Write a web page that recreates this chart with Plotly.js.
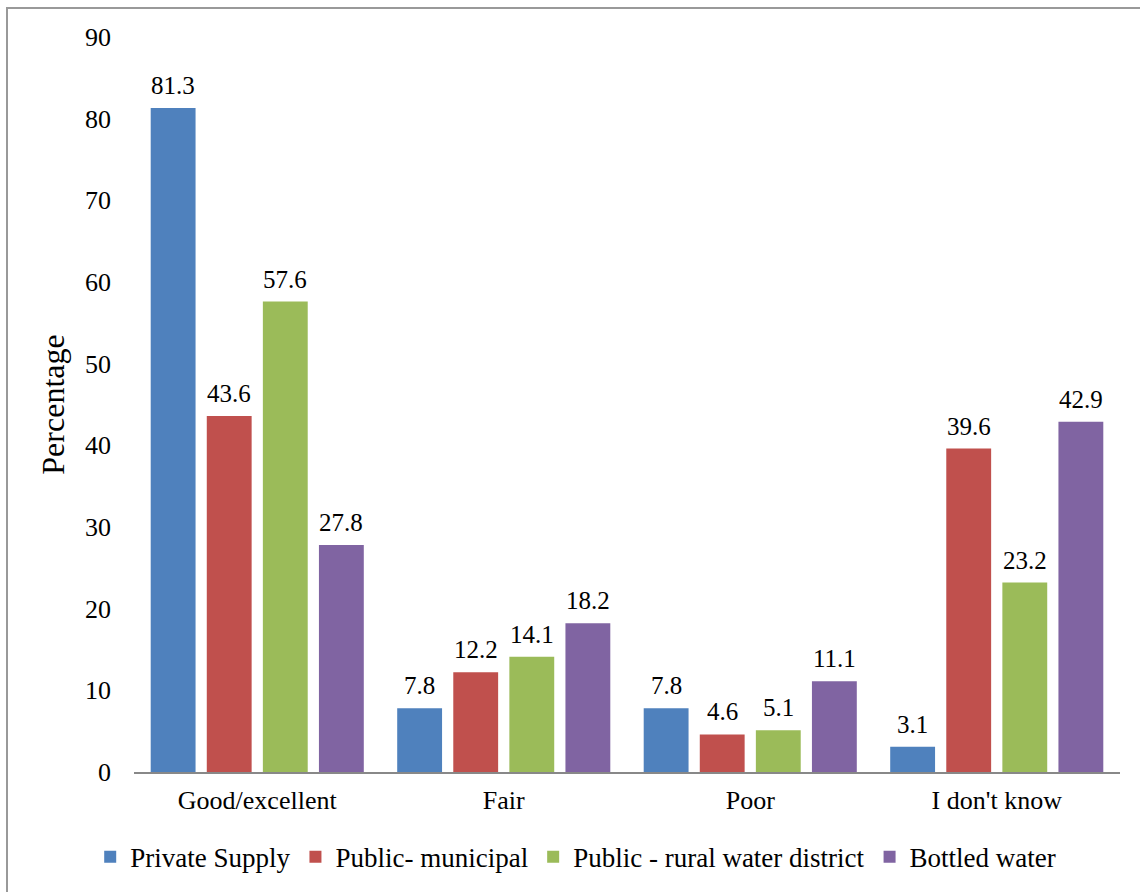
<!DOCTYPE html>
<html>
<head>
<meta charset="utf-8">
<script src="https://cdn.plot.ly/plotly-3.0.1.min.js"></script>
<style>
  html, body { margin: 0; padding: 0; background: #fff; }
  #chart { width: 1140px; height: 892px; }
</style>
</head>
<body>
<div id="chart"></div>
<script>
// Perceived drinking-water quality by water source
const categories = ["Good/excellent", "Fair", "Poor", "I don't know"];
const seriesNames = ["Private Supply", "Public- municipal", "Public - rural water district", "Bottled water"];
const privateSupply = [81.3, 7.8, 7.8, 3.1];
const publicMunicipal = [43.6, 12.2, 4.6, 39.6];
const publicRural = [57.6, 14.1, 5.1, 23.2];
const bottledWater = [27.8, 18.2, 11.1, 42.9];
const colors = ["#4F81BD", "#C0504D", "#9BBB59", "#8064A2"];

const seriesValues = [privateSupply, publicMunicipal, publicRural, bottledWater];
const font = "Liberation Serif, Times New Roman, serif";

// plot area geometry
const W = 1140, H = 892;
const m = { l: 134, r: 20, t: 37, b: 120 };
const pw = W - m.l - m.r, ph = H - m.t - m.b;
const px = x => (x - m.l) / pw;
const py = y => (H - m.b - y) / ph;
const bargap = 0.09;

const traces = seriesValues.map((vals, i) => ({
  type: "bar",
  name: seriesNames[i],
  x: categories,
  y: vals,
  marker: { color: colors[i] },
  hoverinfo: "x+y+name"
}));

// value labels above each bar; horizontal offset follows the grouped-bar slots
const slot = (pw / categories.length) * (1 - bargap) / seriesValues.length;
const labels = [];
seriesValues.forEach((vals, i) => {
  vals.forEach((v, j) => {
    labels.push({
      x: categories[j],
      y: v,
      xref: "x", yref: "y",
      text: v.toFixed(1),
      showarrow: false,
      xanchor: "center",
      yanchor: "bottom",
      xshift: (i - (seriesValues.length - 1) / 2) * slot,
      yshift: 7,
      font: { family: font, size: 25, color: "#000" }
    });
  });
});

const layout = {
  width: W,
  height: H,
  margin: m,
  paper_bgcolor: "#fff",
  plot_bgcolor: "#fff",
  font: { family: font, size: 26, color: "#000" },
  barmode: "group",
  bargap: bargap,
  bargroupgap: 0.2,
  showlegend: true,
  legend: {
    orientation: "h",
    xref: "container",
    x: 0.505,
    xanchor: "center",
    yref: "container",
    y: 0.039,
    yanchor: "middle",
    font: { family: font, size: 27, color: "#000" },
    itemwidth: 30,
    tracegroupgap: 0
  },
  xaxis: {
    type: "category",
    showline: true,
    linecolor: "#888",
    linewidth: 2,
    ticks: "",
    showgrid: false,
    zeroline: false,
    tickfont: { family: font, size: 26, color: "#000" },
    ticklabelstandoff: 4
  },
  yaxis: {
    range: [0, 90],
    dtick: 10,
    showline: false,
    showgrid: false,
    zeroline: false,
    ticks: "",
    tickfont: { family: font, size: 26, color: "#000" },
    ticklabelstandoff: 22,
    title: { text: "Percentage", font: { family: font, size: 32, color: "#000" }, standoff: 10 }
  },
  annotations: labels,
  shapes: [{
    type: "rect",
    xref: "paper", yref: "paper",
    x0: px(7), x1: px(1150),
    y0: py(900), y1: py(8),
    line: { color: "#999", width: 2 },
    fillcolor: "rgba(0,0,0,0)",
    layer: "below"
  }]
};

Plotly.newPlot("chart", traces, layout, { displayModeBar: false, staticPlot: true });
</script>
</body>
</html>
